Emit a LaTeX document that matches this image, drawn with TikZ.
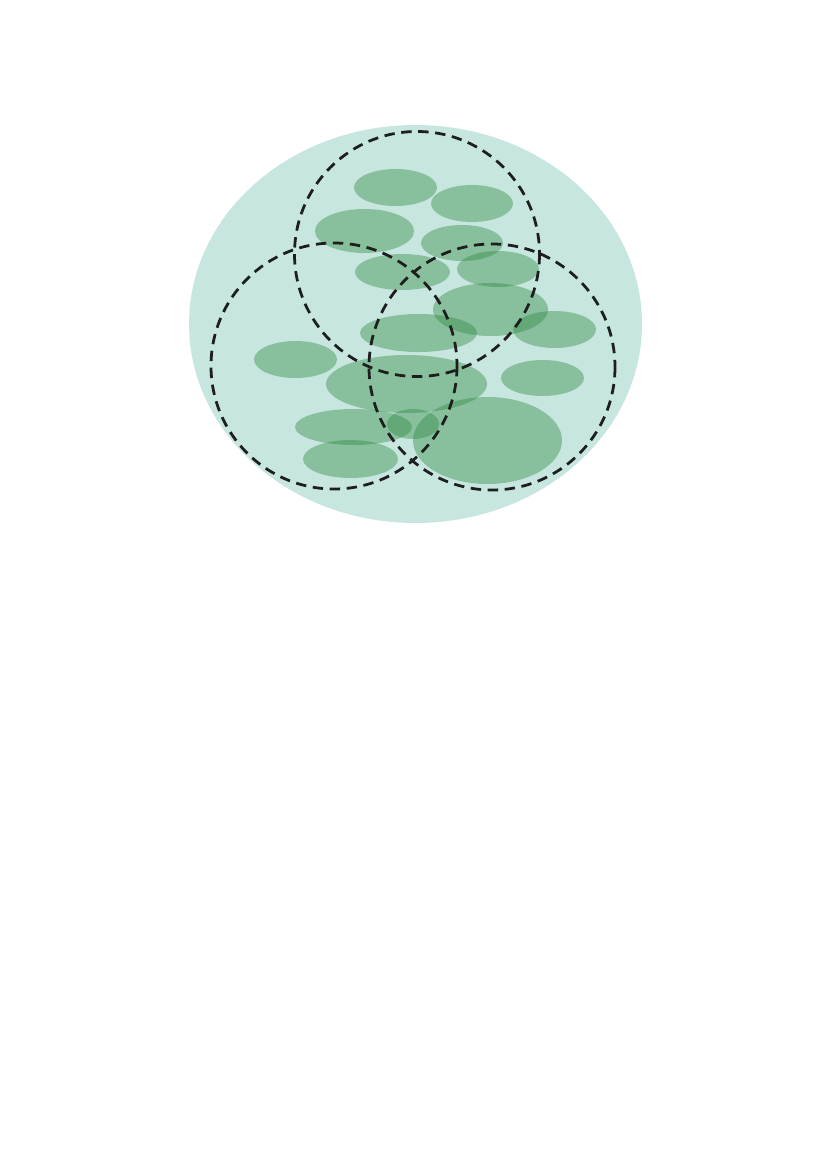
\documentclass[tikz,border=0pt]{standalone}
\usepackage{tikz}
\definecolor{poolteal}{RGB}{198,230,223}
\definecolor{blobgreen}{RGB}{45,135,62}
\definecolor{ringblack}{RGB}{30,30,30}
\tikzset{
  pool/.style={fill=poolteal},
  blob/.style={fill=blobgreen,fill opacity=0.4},
  ring/.style={draw=ringblack,line width=2pt,dash pattern=on 7.5pt off 4.8pt},
}
\begin{document}
\begin{tikzpicture}[x=0.0254cm,y=-0.0254cm]
	\useasboundingbox (0,0) rectangle (827,1169);
	\fill[pool] (415.5,324) ellipse [x radius=226.5,y radius=199];
	
	% centre x / centre y / x radius / y radius
	\foreach \cx/\cy/\rx/\ry in {
		395.5/187.5/41.5/18.5, 472/203.5/41/18.5, 364.5/231/49.5/22,
		462/243/41/18, 402.5/272/47.5/18, 498/269/41/18,
		490.5/309.5/57.5/26.5, 554.5/329.5/41.5/18.5, 418.5/333/58.5/19,
		295.5/359.5/41.5/18.5, 406.5/384/80.5/29, 542.5/378/41.5/18,
		353.5/427/58.5/18, 413/424/26/15, 487.5/440.5/74.5/43.5,
		350.5/459/47.5/19}
		\fill[blob] (\cx,\cy) ellipse [x radius=\rx,y radius=\ry];
	
	\draw[ring] (417,254) circle [radius=122.5];
	\draw[ring] (334,366) circle [radius=123];
	\draw[ring] (492,367) circle [radius=123];
\end{tikzpicture}
\end{document}
